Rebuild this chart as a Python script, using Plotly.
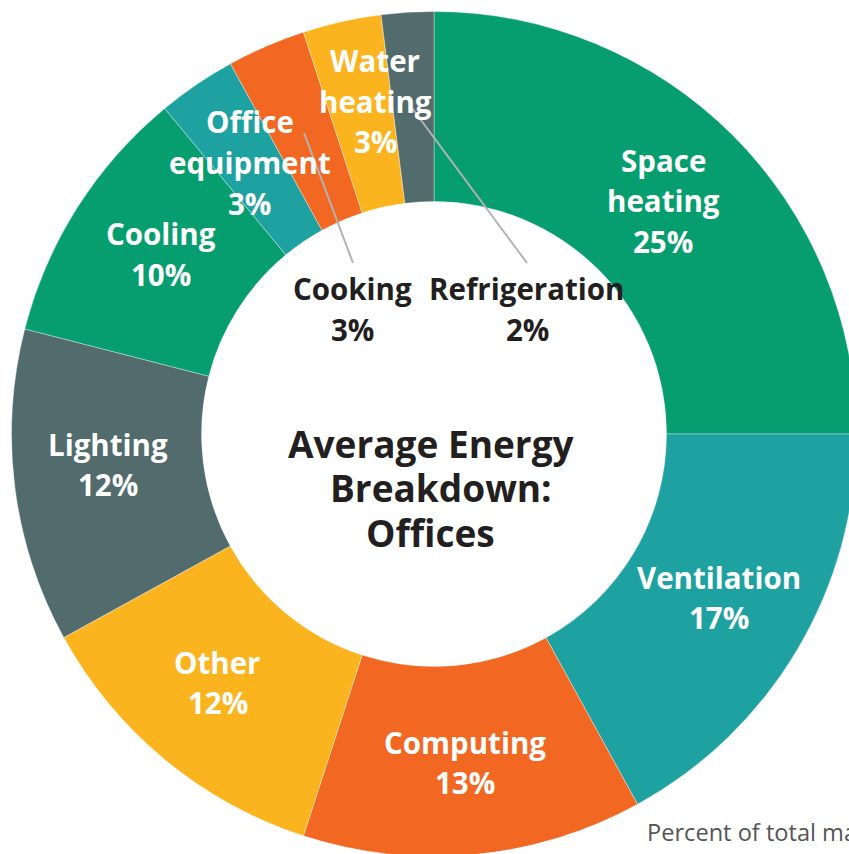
import plotly.graph_objects as go

# ---- data ----
categories = ["Space heating", "Ventilation", "Computing", "Other", "Lighting",
              "Cooling", "Office equipment", "Cooking", "Water heating", "Refrigeration"]
values = [25, 17, 13, 12, 12, 10, 3, 3, 3, 2]
label_lines = [["Space", "heating"], ["Ventilation"], ["Computing"], ["Other"], ["Lighting"],
               ["Cooling"], ["Office", "equipment"], ["Cooking"], ["Water", "heating"], ["Refrigeration"]]
title_lines = ["Average Energy", "Breakdown:", "Offices"]
footnote_lines = ["Percent of total major fuel consumption (Btu)",
                  "for buildings in the energy consumption (f)"]

# ---- style ----
GREEN, TEAL, ORANGE, YELLOW, SLATE = "#069e6e", "#1ea1a1", "#f26722", "#fbb41e", "#526b6d"
colors = [GREEN, TEAL, ORANGE, YELLOW, SLATE, GREEN, TEAL, ORANGE, YELLOW, SLATE]

W, H = 870, 870
CX, CY, R_OUT, R_IN = 434, 434, 422.5, 232.5
# label anchor positions in page pixels (centre x, first line y), colour
label_pos = [
    (663, 160, "white"), (719, 577, "white"), (465, 742, "white"), (218, 662, "white"),
    (108, 444, "white"), (161, 234, "white"), (250, 122, "white"), (352, 289, "#231f20"),
    (375, 61, "white"), (527, 289, "#231f20"),
]
LINE_GAP = 40.5
FONT = "Open Sans"

def px(x):
    return x / W

def py(y):
    return 1 - y / H

fig = go.Figure(go.Pie(
    labels=categories, values=values, sort=False, direction="clockwise", rotation=0,
    hole=R_IN / R_OUT,
    marker=dict(colors=colors, line=dict(color="rgba(255,255,255,0.6)", width=0.6)),
    textinfo="none", hoverinfo="label+percent", showlegend=False,
    domain=dict(x=[px(CX - R_OUT), px(CX + R_OUT)], y=[py(CY + R_OUT), py(CY - R_OUT)]),
))

annotations = []
for lines, v, (cx, cy, col) in zip(label_lines, values, label_pos):
    rows = lines + [f"{v}%"]
    for i, t in enumerate(rows):
        annotations.append(dict(
            x=px(cx), y=py(cy + i * LINE_GAP), xref="paper", yref="paper",
            text=f"<b>{t}</b>", showarrow=False, xanchor="center", yanchor="middle",
            font=dict(family=FONT, size=29.5, color=col)))

title_x = [431, 441, 430]
for i, (t, tx) in enumerate(zip(title_lines, title_x)):
    annotations.append(dict(
        x=px(tx), y=py(443 + i * 44.5), xref="paper", yref="paper",
        text=f"<b>{t}</b>", showarrow=False, xanchor="center", yanchor="middle",
        font=dict(family=FONT, size=37, color="#231f20")))

foot_pos = [(645, 832), (637, 864)]
for t, (fx, fy) in zip(footnote_lines, foot_pos):
    annotations.append(dict(
        x=px(fx), y=py(fy), xref="paper", yref="paper", text=t,
        showarrow=False, xanchor="left", yanchor="middle",
        font=dict(family=FONT, size=23.6, color="#555555")))

shapes = [
    dict(type="line", xref="paper", yref="paper", x0=px(412), y0=py(108), x1=px(527), y1=py(263),
         line=dict(color="#b3b3b3", width=2)),
    dict(type="line", xref="paper", yref="paper", x0=px(304), y0=py(133), x1=px(353), y1=py(263),
         line=dict(color="#b3b3b3", width=2)),
]

fig.update_layout(
    width=W, height=H, margin=dict(l=0, r=0, t=0, b=0),
    paper_bgcolor="white", plot_bgcolor="white",
    annotations=annotations, shapes=shapes,
)

fig.write_html(
    "out.html",
    config={"displayModeBar": False},
    post_script="document.body.style.margin='0';document.body.style.overflow='hidden';"
                "document.documentElement.style.overflow='hidden';",
)
